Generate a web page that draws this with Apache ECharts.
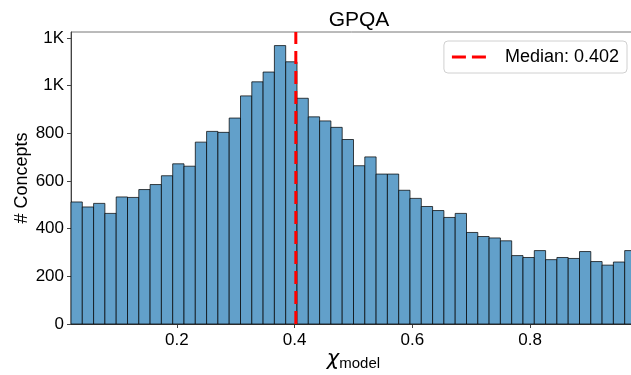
<!DOCTYPE html>
<html>
<head>
<meta charset="utf-8">
<script src="https://cdn.jsdelivr.net/npm/echarts@6/dist/echarts.min.js"></script>
<style>
  html, body { margin: 0; padding: 0; background: #fff; }
  #chart-container { width: 631px; height: 375px; }
</style>
</head>
<body>
<div id="chart-container"></div>
<script>
// histogram bins: start + width (50 bins), counts
var binStart = 0.02;
var binWidth = 0.0192;
var counts = [
  512, 491, 506, 464, 533, 531, 564, 585, 622, 672,
  662, 763, 808, 804, 864, 957, 1016, 1057, 1168, 1100,
  947, 869, 852, 825, 774, 664, 701, 629, 629, 561,
  527, 493, 476, 447, 464, 384, 367, 361, 349, 287,
  279, 308, 270, 279, 275, 304, 262, 247, 260, 308
];
var median = 0.402;
var xTicks = [0.2, 0.4, 0.6, 0.8];
var yTicks = [0, 200, 400, 600, 800, 1000, 1200];

var font = "Liberation Sans";

var dom = document.getElementById("chart-container");
var myChart = echarts.init(dom, null, { renderer: "canvas" });

var histData = counts.map(function (c, i) {
  var x0 = binStart + i * binWidth;
  return [x0, x0 + binWidth, c];
});

var option = {
  animation: false,
  title: {
    text: "GPQA",
    left: 354,
    top: 5,
    textAlign: "center",
    textStyle: { fontFamily: font, fontSize: 21, fontWeight: "normal", color: "#000" },
  },
  grid: {
    left: 71,
    right: -5,
    top: 32,
    bottom: 51,
    outerBoundsMode: "none",
    containLabel: false,
    show: true,
    borderColor: "#777",
    borderWidth: 1,
  },
  legend: {
    right: 4,
    top: 41,
    padding: [7, 8],
    borderColor: "#d0d0d0",
    borderWidth: 1,
    borderRadius: 4,
    backgroundColor: "#fff",
    icon: "path://M0,0H14V3H0Z M20,0H34V3H20Z",
    itemWidth: 34,
    itemHeight: 3,
    textStyle: { fontFamily: font, fontSize: 18, color: "#000", padding: [0, 0, 0, 14], lineHeight: 18 },
    data: ["Median: " + median],
  },
  xAxis: {
    type: "value",
    min: binStart,
    max: binStart + counts.length * binWidth,
    name: "{a|χ}{b|model}",
    nameLocation: "middle",
    nameGap: 24,
    nameMoveOverlap: false,
    nameTextStyle: {
      rich: {
        a: { fontFamily: "DejaVu Sans", fontStyle: "italic", fontSize: 21, color: "#000" },
        b: { fontFamily: font, fontSize: 15, color: "#000", padding: [8, 0, 0, 0] },
      },
    },
    axisLine: { lineStyle: { color: "#444", width: 1 } },
    axisTick: { show: true, length: 4, customValues: xTicks, lineStyle: { color: "#444" } },
    axisLabel: {
      customValues: xTicks,
      fontFamily: font,
      fontSize: 17,
      color: "#000",
      margin: 8,
      formatter: function (v) { return v.toFixed(1); },
    },
    splitLine: { show: false },
  },
  yAxis: {
    type: "value",
    min: 0,
    max: 1225,
    name: "# Concepts",
    nameLocation: "middle",
    nameGap: 40,
    nameMoveOverlap: false,
    nameTextStyle: { fontFamily: font, fontSize: 18, color: "#000" },
    axisLine: { show: true, lineStyle: { color: "#444", width: 1 } },
    axisTick: { show: true, length: 4, customValues: yTicks, lineStyle: { color: "#444" } },
    axisLabel: {
      customValues: yTicks,
      fontFamily: font,
      fontSize: 17,
      color: "#000",
      margin: 7,
      formatter: function (v) { return v >= 1000 ? "1K" : String(v); },
    },
    splitLine: { show: false },
  },
  series: [
    {
      name: "hist",
      type: "custom",
      data: histData,
      encode: { x: [0, 1], y: 2 },
      renderItem: function (params, api) {
        var p0 = api.coord([api.value(0), 0]);
        var p1 = api.coord([api.value(1), api.value(2)]);
        return {
          type: "rect",
          shape: { x: p0[0], y: p1[1], width: p1[0] - p0[0], height: p0[1] - p1[1] },
          style: { fill: "#62a0ca", stroke: "rgba(0,0,0,0.72)", lineWidth: 1 },
        };
      },
      z: 2,
    },
    {
      name: "Median: " + median,
      type: "line",
      data: [[median, 0], [median, 1225]],
      symbol: "none",
      itemStyle: { color: "#ff0000" },
      lineStyle: { color: "#ff0000", width: 3, type: [13, 7] },
      z: 5,
    },
  ],
};

myChart.setOption(option);
window.addEventListener("resize", myChart.resize);
</script>
</body>
</html>
